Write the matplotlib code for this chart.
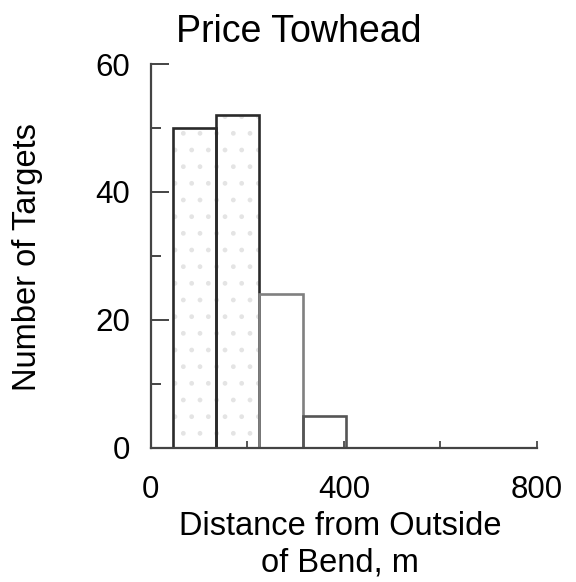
import matplotlib.pyplot as plt
from matplotlib.ticker import MultipleLocator, FixedLocator

# histogram: bin left edges (m), counts
bin_lefts = [45, 135, 225, 315]
bin_width = 90
counts = [50, 52, 24, 5]
edge_colors = ["#2a2a2a", "#2a2a2a", "#808080", "#555555"]
stippled = [True, True, False, False]

plt.rcParams['font.family'] = ['Liberation Sans', 'DejaVu Sans']

fig = plt.figure(figsize=(5.76, 5.82), dpi=100)
ax = fig.add_axes([0.262, 0.231, 0.670, 0.659])

for left, n, ec, dots in zip(bin_lefts, counts, edge_colors, stippled):
    if dots:
        ax.bar(left, n, width=bin_width, align='edge', color='white',
               edgecolor='#e4e4e4', linewidth=0, hatch='.', zorder=1)
    ax.bar(left, n, width=bin_width, align='edge', fill=False,
           edgecolor=ec, linewidth=1.9, zorder=2)

ax.set_xlim(0, 800)
ax.set_ylim(0, 60)

for side in ['top', 'right']:
    ax.spines[side].set_visible(False)
for side in ['left', 'bottom']:
    ax.spines[side].set_color('#444444')
    ax.spines[side].set_linewidth(1.6)

ax.xaxis.set_major_locator(FixedLocator([0, 400, 800]))
ax.xaxis.set_minor_locator(FixedLocator([200, 600]))
ax.yaxis.set_major_locator(MultipleLocator(20))
ax.yaxis.set_minor_locator(MultipleLocator(10))

ax.tick_params(axis='y', which='major', direction='in', length=13, width=1.4,
               color='#444444', labelsize=22.5, pad=15)
ax.tick_params(axis='y', which='minor', direction='in', length=7, width=1.4,
               color='#444444')
ax.tick_params(axis='x', which='major', direction='in', length=5, width=1.4,
               color='#555555', labelsize=22.5, pad=20)
ax.tick_params(axis='x', which='minor', direction='in', length=5, width=1.4,
               color='#555555')

fig.text(0.519, 0.945, "Price Towhead", ha='center', va='center', fontsize=27)
fig.text(0.047, 0.558, "Number of Targets", rotation=90, ha='center',
         va='center', fontsize=23.5)
fig.text(0.590, 0.064, "Distance from Outside\nof Bend, m", ha='center',
         va='center', fontsize=23.5, linespacing=1.25)

fig.savefig("out.png", dpi=100)
